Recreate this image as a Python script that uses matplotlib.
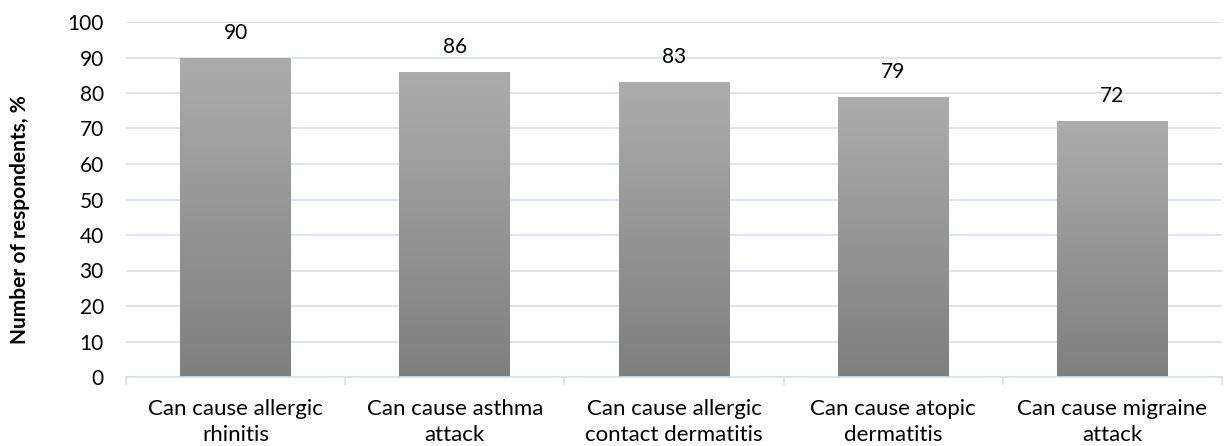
import numpy as np
import matplotlib.pyplot as plt
from matplotlib.colors import LinearSegmentedColormap

categories = ["Can cause allergic\nrhinitis", "Can cause asthma\nattack",
              "Can cause allergic\ncontact dermatitis", "Can cause atopic\ndermatitis",
              "Can cause migraine\nattack"]
values = [90, 86, 83, 79, 72]
yticks = list(range(0, 101, 10))

plt.rcParams['font.family'] = ['Lato', 'DejaVu Sans']

fig = plt.figure(figsize=(12.24, 4.46), dpi=100)
ax = fig.add_axes([126 / 1224, 1 - 377 / 446, (1222 - 126) / 1224, (377 - 22) / 446])

x = np.arange(len(categories))
width = 0.505
bars = ax.bar(x, values, width=width, color='none', edgecolor='none', zorder=2)

# vertical grey gradient inside each bar, darker at the base
cmap = LinearSegmentedColormap.from_list('grey_grad', ['#7f7f7f', '#acacac'])
grad = np.linspace(0, 1, 256).reshape(-1, 1)
for b, v in zip(bars, values):
    x0 = b.get_x()
    im = ax.imshow(grad, cmap=cmap, aspect='auto', origin='lower',
                   extent=(x0, x0 + width, 0, v), zorder=2)
    im.set_clip_path(b)
    ax.text(b.get_x() + width / 2, v + 4.2, f"{v}", ha='center', va='bottom',
            fontsize=15, color='#000000')

grid_col = '#d6e0ef'
ax.set_xlim(-0.5, len(categories) - 0.5)
ax.set_ylim(0, 100)
ax.set_yticks(yticks)
ax.set_yticklabels([str(t) for t in yticks], fontsize=15)
ax.yaxis.grid(True, color=grid_col, linewidth=1.2, zorder=0)
ax.set_axisbelow(True)

ax.set_xticks(x)
ax.set_xticklabels(categories, fontsize=16, linespacing=1.35)
ax.tick_params(axis='x', length=0, pad=16)
ax.tick_params(axis='y', length=0, pad=16)
ax.set_xticks(np.arange(-0.5, len(categories)), minor=True)
ax.tick_params(axis='x', which='minor', length=6, color=grid_col, width=1.2)

for s in ['top', 'right', 'left']:
    ax.spines[s].set_visible(False)
ax.spines['bottom'].set_color(grid_col)
ax.spines['bottom'].set_linewidth(1.2)

fig.text(20 / 1224, 1 - 220 / 446, "Number of respondents, %", rotation=90,
         ha='center', va='center', fontsize=15, fontweight='bold')

fig.savefig('out.png', dpi=100)
